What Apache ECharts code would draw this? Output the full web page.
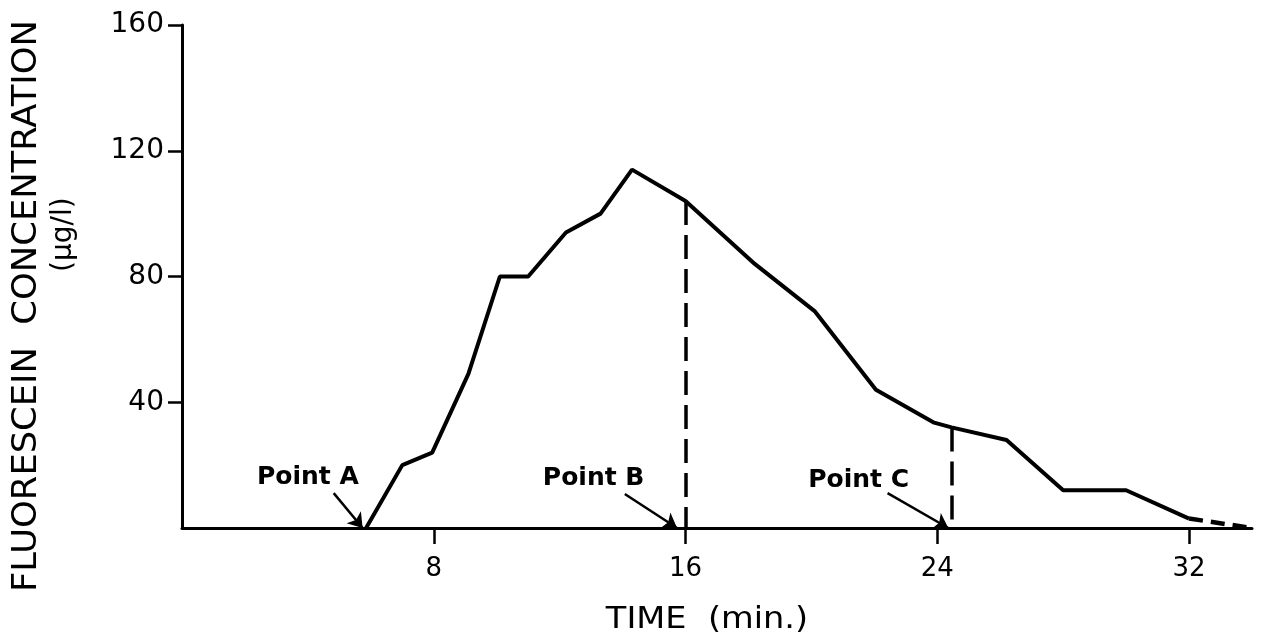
<!DOCTYPE html>
<html>
<head>
<meta charset="utf-8">
<script src="https://cdn.jsdelivr.net/npm/echarts@6/dist/echarts.min.js"></script>
<style>
html,body{margin:0;padding:0;background:#fff;}
#c{width:1261px;height:640px;}
</style>
</head>
<body>
<div id="c"></div>
<script>
// Data
var timeMin = [5.85, 7.0, 7.95, 9.1, 10.1, 11.0, 12.2, 13.3, 14.3, 16.0, 18.2, 20.1, 22.05, 23.9, 24.45, 26.2, 28.0, 30.0, 32.0];
var concentration = [0, 20, 24, 49, 80, 80, 94, 100, 114, 104, 84, 69, 44, 33.5, 32, 28, 12, 12, 3];
var tailTime = [32.0, 34.0];
var tailConc = [3, 0];
var xTicks = [8, 16, 24, 32];
var yTicks = [40, 80, 120, 160];
var markerTimes = [16.0, 24.45];
var markerConc = [104, 32];
var pointLabels = ['Point A', 'Point B', 'Point C'];
var labelPos = [[4.0, 16.2], [13.08, 15.6], [21.5, 15.0]];
var arrowStart = [[4.82, 11.1], [14.07, 10.8], [22.42, 11.1]];
var arrowEnd = [[5.74, 0], [15.73, 0], [24.35, 0]];

var mainData = timeMin.map(function (t, i) { return [t, concentration[i]]; });
var tailData = tailTime.map(function (t, i) { return [t, tailConc[i]]; });

var dashLines = markerTimes.map(function (t, i) {
  return [{ coord: [t, markerConc[i]] }, { coord: [t, 0] }];
});
var arrows = arrowStart.map(function (s, i) {
  return [{ coord: s }, { coord: arrowEnd[i] }];
});
var labelPts = pointLabels.map(function (n, i) {
  return { coord: labelPos[i], value: n };
});

var font = 'DejaVu Sans, Liberation Sans, sans-serif';
var chart = echarts.init(document.getElementById('c'), null, { renderer: 'canvas' });
chart.setOption({
  animation: false,
  backgroundColor: '#fff',
  grid: { left: 182, top: 25, right: 9, bottom: 112, containLabel: false },
  xAxis: {
    type: 'value', min: 0, max: 34,
    axisLine: { show: true, lineStyle: { color: '#000', width: 3 } },
    axisTick: { show: true, length: 16, inside: false, customValues: xTicks, lineStyle: { color: '#000', width: 2.5 } },
    axisLabel: { customValues: xTicks, color: '#000', fontSize: 26, fontFamily: font, margin: 28 },
    splitLine: { show: false }
  },
  yAxis: {
    type: 'value', min: 0, max: 160, interval: 40,
    axisLine: { show: true, lineStyle: { color: '#000', width: 3 } },
    axisTick: { show: true, length: 14, customValues: yTicks, lineStyle: { color: '#000', width: 2.5 } },
    axisLabel: { customValues: yTicks, color: '#000', fontSize: 28, fontFamily: font, margin: 18 },
    splitLine: { show: false }
  },
  graphic: [
    { type: 'text', x: 11, y: 592, rotation: Math.PI / 2, scaleX: 1.07, style: { text: 'FLUORESCEIN  CONCENTRATION', font: '33px ' + font, fill: '#000', textAlign: 'left', textVerticalAlign: 'top' } },
    { type: 'text', x: 50, y: 272, rotation: Math.PI / 2, style: { text: '(\u00b5g/l)', font: '28px ' + font, fill: '#000', textAlign: 'left', textVerticalAlign: 'top' } },
    { type: 'text', x: 707, y: 605, scaleX: 1.12, style: { text: 'TIME  (min.)', font: '30px ' + font, fill: '#000', textAlign: 'center', textVerticalAlign: 'top' } }
  ],
  series: [
    {
      type: 'line', data: mainData, symbol: 'none',
      lineStyle: { color: '#000', width: 4 },
      markLine: {
        silent: true, symbol: 'none',
        lineStyle: { color: '#000', width: 3.5, type: [24, 10] },
        label: { show: false },
        data: dashLines
      },
      z: 3
    },
    {
      type: 'line', data: tailData, symbol: 'none',
      lineStyle: { color: '#000', width: 4.5, type: [14, 8] }
    },
    {
      type: 'line', data: [], symbol: 'none',
      markLine: {
        silent: true, symbol: ['none', 'arrow'], symbolSize: 14,
        lineStyle: { color: '#000', width: 2.5, type: 'solid', curveness: 0.3 },
        label: { show: false },
        data: arrows
      },
      markPoint: {
        silent: true, symbol: 'circle', symbolSize: 1,
        itemStyle: { color: 'rgba(0,0,0,0)' },
        label: { show: true, position: 'inside', color: '#000', fontSize: 25, fontWeight: 'bold', fontFamily: font, formatter: function (p) { return p.value; } },
        data: labelPts
      }
    }
  ]
});
</script>
</body>
</html>
